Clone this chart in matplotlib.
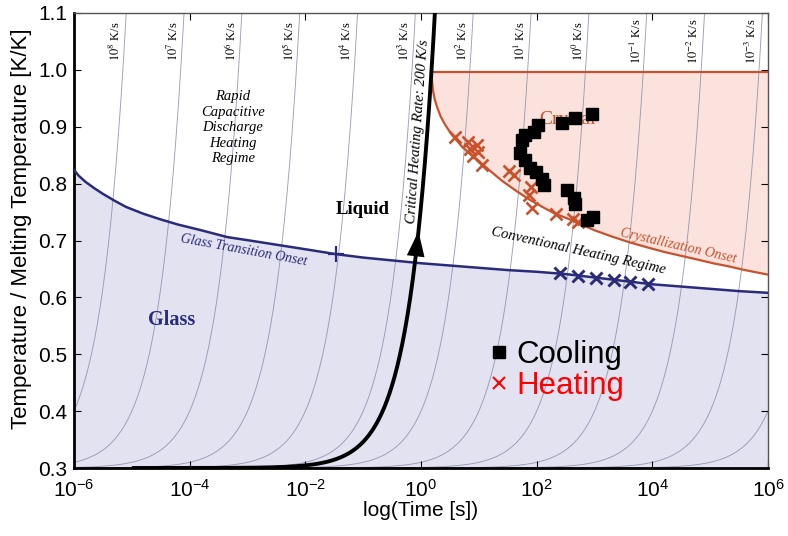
import numpy as np
import matplotlib
matplotlib.use("Agg")
import matplotlib.pyplot as plt
from matplotlib.lines import Line2D

plt.rcParams.update({
    "font.family": "Liberation Sans",
    "mathtext.fontset": "stix",
})
SERIF = "Liberation Serif"
NAVY = "#2b2b7c"
RUST = "#c9522d"
GLASS_FILL = "#e3e2f1"
CRYST_FILL = "#fbe2dd"
RATE_GREY = "#8a8fab"

# melting temperature / start temperature used for the constant-rate lines
T_MELT = 1000.0
T_START = 0.3
rate_exp = np.arange(8, -5, -1)            # 10^8 ... 10^-4 K/s
rate_label_exp = np.arange(8, -4, -1)      # labelled ones at the top
crit_slope = 0.46                          # T/Tm per second along the critical path

# glass transition onset (log10 t, T/Tm)
glass_lt = [-6.0, -5.92, -5.8, -5.65, -5.5, -5.3, -5.1, -4.8, -4.5, -4.2, -3.8,
            -3.35, -2.9, -2.4, -1.9, -1.47, -1.0, -0.5, 0.0, 0.5, 1.0, 1.5, 2.0,
            2.5, 3.0, 3.5, 4.0, 4.5, 5.0, 5.5, 6.0]
glass_T = [0.824, 0.814, 0.803, 0.792, 0.782, 0.770, 0.759, 0.747, 0.737, 0.728,
           0.718, 0.706, 0.699, 0.691, 0.683, 0.676, 0.670, 0.665, 0.660, 0.656,
           0.652, 0.648, 0.645, 0.641, 0.635, 0.629, 0.623, 0.619, 0.615, 0.611,
           0.608]

# crystallization onset
cryst_lt = [0.177, 0.19, 0.21, 0.24, 0.28, 0.34, 0.42, 0.54, 0.7, 0.85, 1.02, 1.2,
            1.4, 1.65, 1.89, 2.1, 2.3, 2.55, 2.75, 3.0, 3.3, 3.6, 3.91, 4.2, 4.5,
            4.8, 5.05, 5.3, 5.6, 6.0]
cryst_T = [0.996, 0.980, 0.962, 0.947, 0.934, 0.918, 0.903, 0.885, 0.866, 0.852,
           0.838, 0.822, 0.805, 0.787, 0.771, 0.759, 0.748, 0.738, 0.729, 0.718,
           0.707, 0.697, 0.688, 0.680, 0.673, 0.666, 0.660, 0.655, 0.648, 0.640]
cryst_top = 0.996

# measured points
cool_lt = [2.96, 2.67, 2.44, 2.03, 1.95, 1.80, 1.75, 1.72, 1.80, 1.89, 1.98, 2.09,
           2.12, 2.52, 2.64, 2.67, 2.87, 2.98]
cool_T = [0.923, 0.915, 0.906, 0.903, 0.891, 0.885, 0.876, 0.853, 0.841, 0.827,
          0.821, 0.809, 0.797, 0.789, 0.774, 0.765, 0.736, 0.741]
heat_lt = [0.59, 0.82, 0.96, 0.85, 0.99, 0.90, 1.06, 1.53, 1.61, 1.91, 1.87, 1.92,
           2.34, 2.62, 2.72]
heat_T = [0.882, 0.873, 0.868, 0.861, 0.855, 0.848, 0.832, 0.823, 0.815, 0.794,
          0.780, 0.758, 0.746, 0.737, 0.732]
heat_glass_lt = [2.41, 2.72, 3.03, 3.33, 3.62, 3.93]
heat_glass_T = [0.643, 0.637, 0.634, 0.630, 0.627, 0.623]
glass_mark = (-1.47, 0.676)

xtick_exp = [-6, -4, -2, 0, 2, 4, 6]
yticks = [0.3, 0.4, 0.5, 0.6, 0.7, 0.8, 0.9, 1.0, 1.1]

fig = plt.figure(figsize=(7.88, 5.36), dpi=100)
ax = fig.add_axes([74 / 788, 68 / 536, 694 / 788, 455 / 536])
ax.set_xscale("log")
ax.set_xlim(1e-6, 1e6)
ax.set_ylim(0.3, 1.1)

# regions
gt = 10.0 ** np.array(glass_lt)
ax.fill_between(gt, 0.3, glass_T, color=GLASS_FILL, lw=0, zorder=0)
ct = 10.0 ** np.array(cryst_lt)
ax.fill_between(ct, cryst_T, cryst_top, color=CRYST_FILL, lw=0, zorder=0)

# constant heating-rate lines
t = np.logspace(-6, 6, 800)
for e in rate_exp:
    ax.plot(t, T_START + 10.0 ** e * t / T_MELT, color=RATE_GREY, lw=0.65,
            alpha=0.85, zorder=1)
for e in rate_label_exp:
    t_lab = (1.05 - T_START) * T_MELT / 10.0 ** e
    ax.annotate(rf"$10^{{{e}}}$ K/s", (t_lab, 1.05), xytext=(-6.5, 0),
                textcoords="offset points", rotation=90, ha="center",
                va="center", fontsize=9, family=SERIF, zorder=3)

# phase boundaries
ax.plot(gt, glass_T, color=NAVY, lw=1.8, zorder=4)
ax.plot(ct, cryst_T, color=RUST, lw=1.6, zorder=4)
ax.plot([ct[0], 1e6], [cryst_top, cryst_top], color=RUST, lw=1.6, zorder=4)
ax.plot(10.0 ** glass_mark[0], glass_mark[1], marker="+", ms=11, mew=1.6,
        color=NAVY, zorder=5)

# critical heating path
tc = np.logspace(-5, 0.4, 600)
ax.plot(tc, T_START + crit_slope * tc, color="black", lw=2.8, zorder=6,
        solid_capstyle="butt")
T_base, T_tip = 0.670, 0.716
ax.annotate("", xy=((T_tip - T_START) / crit_slope, T_tip),
            xytext=((T_base - T_START) / crit_slope, T_base),
            arrowprops=dict(arrowstyle="-|>,head_length=0.9,head_width=0.32",
                            color="black", lw=0, mutation_scale=20,
                            shrinkA=0, shrinkB=0), zorder=7)

# data
ax.plot(10.0 ** np.array(heat_lt), heat_T, ls="none", marker="x", ms=9,
        mew=1.9, color=RUST, zorder=7)
ax.plot(10.0 ** np.array(heat_glass_lt), heat_glass_T, ls="none", marker="x",
        ms=9, mew=2.1, color=NAVY, zorder=7)
ax.plot(10.0 ** np.array(cool_lt), cool_T, ls="none", marker="s", ms=8.5,
        color="black", zorder=8)

# region labels
ax.text(10 ** -3.25, 0.898, "Rapid\nCapacitive\nDischarge\nHeating\nRegime",
        ha="center", va="center", fontsize=10.5, style="italic", family=SERIF,
        linespacing=1.25, zorder=3)
ax.text(10 ** -1.0, 0.755, "Liquid", ha="center", va="center", fontsize=13.5,
        weight="bold", family=SERIF, zorder=3)
ax.text(10 ** -4.32, 0.560, "Glass", ha="center", va="center", fontsize=14.5,
        weight="bold", family=SERIF, color=NAVY, zorder=3)
ax.text(10 ** -3.06, 0.683, "Glass Transition Onset", ha="center", va="center",
        rotation=-10.5, fontsize=10, style="italic", family=SERIF, color=NAVY,
        zorder=3)
ax.text(10 ** -0.05, 0.892, "Critical Heating Rate: 200 K/s", ha="center",
        va="center", rotation=86, fontsize=10.8, style="italic", family=SERIF,
        zorder=3)
ax.text(10 ** 2.53, 0.912, "Crystal", ha="center", va="center", fontsize=14,
        family=SERIF, color=RUST, zorder=3)
ax.text(10 ** 4.45, 0.690, "Crystallization Onset", ha="center", va="center",
        rotation=-13, fontsize=10, style="italic", family=SERIF, color=RUST,
        zorder=3)
ax.text(10 ** 2.72, 0.681, "Conventional Heating Regime", ha="center",
        va="center", rotation=-12.5, fontsize=10.5, style="italic", family=SERIF,
        zorder=3)

handles = [Line2D([], [], ls="none", marker="s", ms=8, color="black"),
           Line2D([], [], ls="none", marker="x", ms=8, mew=1.5, color="red")]
ax.legend(handles, ["Cooling", "Heating"], loc="upper left",
          bbox_to_anchor=(0.576, 0.309), frameon=False, fontsize=22.5,
          labelcolor=["black", "red"], handletextpad=0.15, labelspacing=0.02,
          handlelength=0.8, borderaxespad=0)

# axes styling
ax.set_xticks([10.0 ** e for e in xtick_exp])
ax.set_xticklabels([rf"$\mathregular{{10^{{{e}}}}}$" for e in xtick_exp])
ax.minorticks_off()
ax.set_yticks(yticks)
ax.set_yticklabels([f"{v:.1f}" for v in yticks])
ax.tick_params(direction="in", top=True, right=True, length=5, width=0.8,
               labelsize=15)
ax.tick_params(axis="x", pad=8)
ax.tick_params(axis="y", pad=5)
for side in ("left", "bottom"):
    ax.spines[side].set_linewidth(2.0)
for side in ("top", "right"):
    ax.spines[side].set_linewidth(1.0)
    ax.spines[side].set_color("#555555")
ax.set_xlabel("log(Time [s])", fontsize=15, labelpad=0)
ax.set_ylabel("Temperature / Melting Temperature [K/K]", fontsize=16)
ax.yaxis.set_label_coords(-0.06, 0.527)

fig.savefig("out.png", dpi=100)
